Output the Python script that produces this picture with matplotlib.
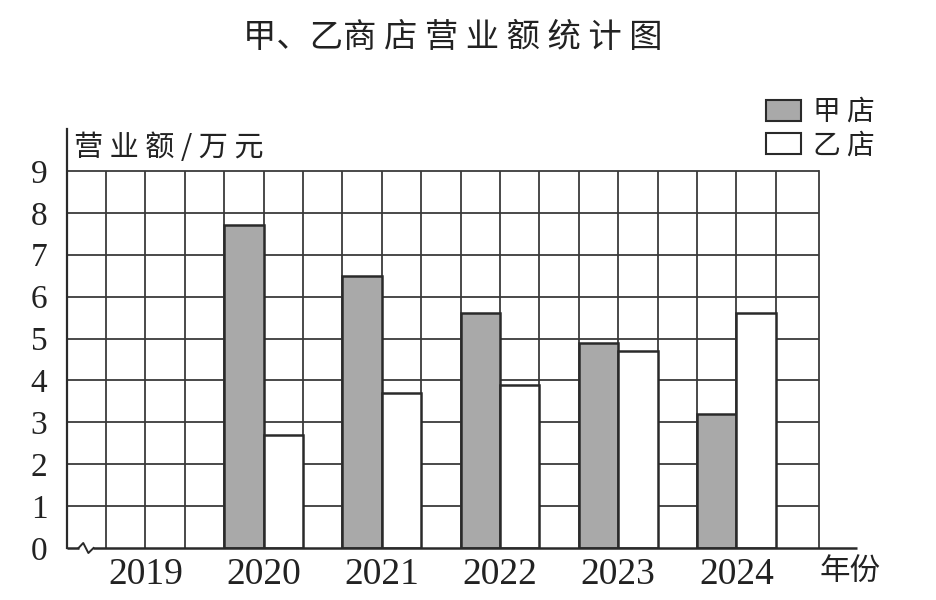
import matplotlib
matplotlib.use("Agg")
import matplotlib.pyplot as plt
from matplotlib.patches import Patch

plt.rcParams['font.family'] = ['Noto Sans CJK SC', 'DejaVu Sans']

# ---- data ----
years = ['2019', '2020', '2021', '2022', '2023', '2024']
jia = [None, 7.7, 6.5, 5.6, 4.9, 3.2]     # 甲店 (万元)
yi = [None, 2.7, 3.7, 3.9, 4.7, 5.6]      # 乙店 (万元)
yticks = list(range(0, 10))
series_names = ['甲 店', '乙 店']
title = '甲、乙商 店 营 业 额 统 计 图'
ylabel = '营 业 额 / 万 元'
xlabel = '年份'

W, H = 937, 600
fig = plt.figure(figsize=(W / 100, H / 100), dpi=100)
# axes: left at x=66.7px, right at 857px, bottom 548px, top 130px
ax = fig.add_axes([66.7 / W, 1 - 548 / H, (857 - 66.7) / W, (548 - 129) / H])

cell = 1.0                      # one grid column
grid_right = 19.1               # right border of grid (in columns)
ax.set_xlim(0, 20.06)
ax.set_ylim(0, 10)

grid_color = '#3a3a3a'
edge = '#2a2a2a'
# grid
for gx in range(1, 19):
    ax.plot([gx, gx], [0, 9], color=grid_color, lw=1.3, zorder=1, solid_capstyle='butt')
ax.plot([grid_right, grid_right], [0, 9], color=grid_color, lw=1.3, zorder=1)
for gy in yticks[1:]:
    ax.plot([0, grid_right], [gy, gy], color=grid_color, lw=1.3, zorder=1, solid_capstyle='butt')

# bars
centers = [2 + 3 * i for i in range(len(years))]
for c, a, b in zip(centers, jia, yi):
    if a is not None:
        ax.bar(c - cell / 2, a, width=cell, color='#a9a9a9', edgecolor=edge, linewidth=1.8, zorder=3)
    if b is not None:
        ax.bar(c + cell / 2, b, width=cell, color='white', edgecolor=edge, linewidth=1.8, zorder=3)

# spines
for s in ['top', 'right']:
    ax.spines[s].set_visible(False)
ax.spines['left'].set_linewidth(1.6)
ax.spines['left'].set_color(edge)
ax.spines['bottom'].set_visible(False)
# x axis line with break mark
ax.plot([0, 0.3], [0, 0], color=edge, lw=1.8, zorder=4, clip_on=False, solid_capstyle='butt')
ax.plot([0.3, 0.42, 0.55, 0.68], [0, 0.12, -0.12, 0], color=edge, lw=1.4, zorder=4, clip_on=False)
ax.plot([0.68, 20.06], [0, 0], color=edge, lw=1.8, zorder=4, clip_on=False, solid_capstyle='butt')

ax.set_xticks(centers)
ax.set_xticklabels(years, family='Liberation Serif', fontsize=27)
ax.set_yticks(yticks)
ax.set_yticklabels([str(v) for v in yticks], family='Liberation Serif', fontsize=24)
ax.tick_params(axis='both', length=0, colors='#222222')
ax.tick_params(axis='x', pad=7)
ax.tick_params(axis='y', pad=14)

fig.text(74 / W, 1 - 148 / H, ylabel, fontsize=21, ha='left', va='center', color='#222222')
fig.text(850 / W, 1 - 571 / H, xlabel, fontsize=22, ha='center', va='center', color='#222222')
fig.text(453 / W, 1 - 38 / H, title, fontsize=24, ha='center', va='center', color='#222222')

handles = [Patch(facecolor='#a9a9a9', edgecolor=edge, linewidth=1.5),
           Patch(facecolor='white', edgecolor=edge, linewidth=1.5)]
leg = fig.legend(handles, series_names, loc='upper left',
                 bbox_to_anchor=(766 / W, 1 - 97 / H), bbox_transform=fig.transFigure,
                 frameon=False, fontsize=20, handlelength=1.25, handleheight=0.78,
                 handletextpad=0.45, labelspacing=0.12, borderpad=0, borderaxespad=0)
for t in leg.get_texts():
    t.set_color('#222222')

fig.savefig('out.png', dpi=100, facecolor='white')
